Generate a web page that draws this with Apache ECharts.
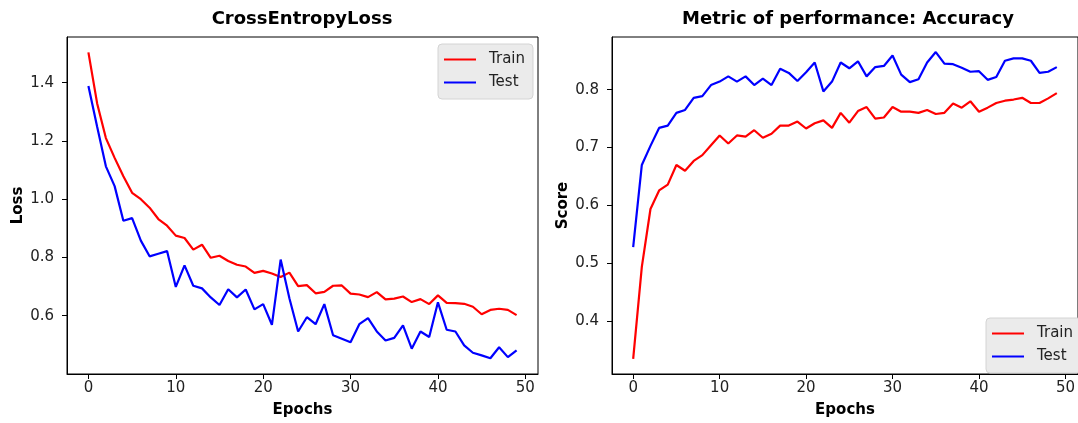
<!DOCTYPE html>
<html>
<head>
<meta charset="utf-8">
<script src="https://cdn.jsdelivr.net/npm/echarts@6/dist/echarts.min.js"></script>
<style>
    html, body { margin: 0; padding: 0; background: #fff; }
    #chart { width: 1078px; height: 423px; }
</style>
</head>
<body>
<div id="chart"></div>
<script>
// epochs 0..49
const epochs = [
    0, 1, 2, 3, 4, 5, 6, 7, 8, 9, 10, 11, 12, 13, 14, 15, 16, 17, 18, 19, 20, 21, 22, 23, 24,
    25, 26, 27, 28, 29, 30, 31, 32, 33, 34, 35, 36, 37, 38, 39, 40, 41, 42, 43, 44, 45, 46, 47, 48, 49
];

const lossTrain = [
    1.504, 1.329, 1.210, 1.142, 1.079, 1.022, 1.000, 0.971, 0.932, 0.909,
    0.875, 0.867, 0.827, 0.844, 0.799, 0.806, 0.788, 0.775, 0.769, 0.747,
    0.754, 0.745, 0.733, 0.748, 0.702, 0.705, 0.677, 0.682, 0.703, 0.704,
    0.676, 0.673, 0.664, 0.681, 0.656, 0.659, 0.666, 0.647, 0.657, 0.640,
    0.670, 0.644, 0.643, 0.641, 0.631, 0.605, 0.620, 0.624, 0.620, 0.602
];
const lossTest = [
    1.389, 1.249, 1.113, 1.045, 0.926, 0.935, 0.858, 0.804, 0.813, 0.822,
    0.699, 0.773, 0.703, 0.694, 0.663, 0.637, 0.691, 0.663, 0.690, 0.622,
    0.640, 0.569, 0.793, 0.660, 0.546, 0.595, 0.571, 0.640, 0.533, 0.521,
    0.509, 0.571, 0.592, 0.546, 0.515, 0.524, 0.567, 0.487, 0.546, 0.527,
    0.646, 0.552, 0.546, 0.498, 0.473, 0.464, 0.454, 0.492, 0.458, 0.481
];

const accTrain = [
    0.335, 0.494, 0.594, 0.626, 0.636, 0.670, 0.660, 0.677, 0.687, 0.704,
    0.721, 0.707, 0.721, 0.719, 0.730, 0.717, 0.724, 0.738, 0.738, 0.745,
    0.733, 0.742, 0.747, 0.734, 0.760, 0.743, 0.763, 0.770, 0.750, 0.752,
    0.770, 0.762, 0.762, 0.760, 0.765, 0.758, 0.760, 0.776, 0.769, 0.780,
    0.762, 0.769, 0.777, 0.781, 0.783, 0.786, 0.777, 0.777, 0.785, 0.794
];
const accTest = [
    0.528, 0.670, 0.703, 0.734, 0.738, 0.760, 0.765, 0.786, 0.789, 0.808,
    0.814, 0.823, 0.814, 0.823, 0.808, 0.819, 0.808, 0.836, 0.829, 0.815,
    0.830, 0.847, 0.797, 0.814, 0.847, 0.837, 0.849, 0.823, 0.839, 0.841,
    0.859, 0.826, 0.813, 0.818, 0.847, 0.865, 0.845, 0.844, 0.838, 0.831,
    0.832, 0.817, 0.822, 0.850, 0.854, 0.854, 0.850, 0.829, 0.831, 0.839
];

const xTicks = [0, 10, 20, 30, 40, 50];
const lossTicks = [0.6, 0.8, 1.0, 1.2, 1.4];
const accTicks = [0.4, 0.5, 0.6, 0.7, 0.8];

const FONT = 'DejaVu Sans';
const pairs = arr => epochs.map((e, i) => [e, arr[i]]);

function xAxisFor(gridIndex) {
    return {
        type: 'value',
        gridIndex: gridIndex,
        min: -2.45,
        max: 51.45,
        name: 'Epochs',
        nameLocation: 'middle',
        nameGap: 29,
        nameTextStyle: { fontFamily: FONT, fontSize: 15, fontWeight: 'bold', color: '#000' },
        splitLine: { show: false },
        axisLine: { show: true, onZero: false, lineStyle: { color: '#000', width: 1 } },
        axisTick: { show: true, length: 5, customValues: xTicks, lineStyle: { color: '#000' } },
        axisLabel: {
            customValues: xTicks,
            margin: 7,
            fontFamily: FONT,
            fontSize: 15,
            color: '#222'
        }
    };
}

function yAxisFor(gridIndex, name, min, max, ticks) {
    return {
        type: 'value',
        gridIndex: gridIndex,
        min: min,
        max: max,
        name: name,
        nameLocation: 'middle',
        nameGap: 41,
        nameTextStyle: { fontFamily: FONT, fontSize: 15, fontWeight: 'bold', color: '#000' },
        splitLine: { show: false },
        axisLine: { show: true, onZero: false, lineStyle: { color: '#000', width: 1 } },
        axisTick: { show: true, length: 5, customValues: ticks, lineStyle: { color: '#000' } },
        axisLabel: {
            customValues: ticks,
            margin: 13,
            fontFamily: FONT,
            fontSize: 15,
            color: '#222',
            formatter: v => v.toFixed(1)
        }
    };
}

function lineSeries(name, color, xi, data) {
    return {
        name: name,
        type: 'line',
        xAxisIndex: xi,
        yAxisIndex: xi,
        symbol: 'none',
        showSymbol: false,
        animation: false,
        lineStyle: { color: color, width: 2.2 },
        itemStyle: { color: color },
        data: pairs(data)
    };
}

function legendAt(left, top) {
    return {
        orient: 'vertical',
        left: left,
        top: top,
        data: ['Train', 'Test'],
        icon: 'rect',
        itemWidth: 32,
        itemHeight: 2,
        itemGap: 6,
        padding: [7, 8, 8, 6],
        backgroundColor: '#ebebeb',
        borderColor: '#d4d4d4',
        borderWidth: 1,
        borderRadius: 4,
        selectedMode: false,
        textStyle: { fontFamily: FONT, fontSize: 15, color: '#222', padding: [0, 0, 0, 8], lineHeight: 17 }
    };
}

const myChart = echarts.init(document.getElementById('chart'));

const option = {
    animation: false,
    backgroundColor: '#fff',
    title: [
        {
            text: 'CrossEntropyLoss',
            left: 302, top: 10, textAlign: 'center', padding: 0,
            textStyle: { fontFamily: FONT, fontSize: 18, fontWeight: 'bold', color: '#000' }
        },
        {
            text: 'Metric of performance: Accuracy',
            left: 848, top: 10, textAlign: 'center', padding: 0,
            textStyle: { fontFamily: FONT, fontSize: 18, fontWeight: 'bold', color: '#000' }
        }
    ],
    legend: [legendAt(438, 44), legendAt(986, 318)],
    grid: [
        { left: 67, top: 37, width: 471, height: 339, show: true, borderColor: '#000', borderWidth: 1 },
        { left: 612, top: 37, width: 472, height: 339, show: true, borderColor: '#000', borderWidth: 1 }
    ],
    xAxis: [xAxisFor(0), xAxisFor(1)],
    yAxis: [
        yAxisFor(0, 'Loss', 0.40, 1.557, lossTicks),
        yAxisFor(1, 'Score', 0.309, 0.891, accTicks)
    ],
    series: [
        lineSeries('Train', '#ff0000', 0, lossTrain),
        lineSeries('Test', '#0000ff', 0, lossTest),
        lineSeries('Train', '#ff0000', 1, accTrain),
        lineSeries('Test', '#0000ff', 1, accTest)
    ]
};

option && myChart.setOption(option);
</script>
</body>
</html>
